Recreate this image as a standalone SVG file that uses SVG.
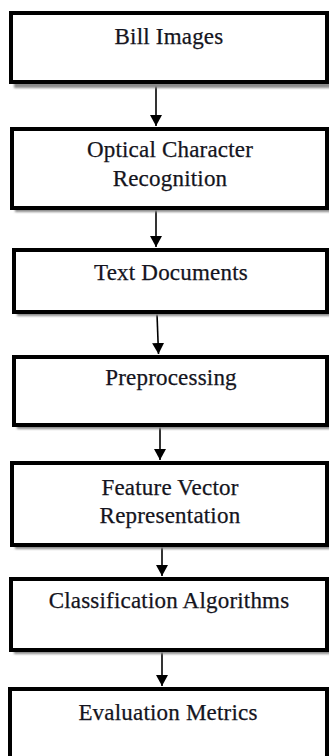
<svg xmlns="http://www.w3.org/2000/svg" width="329" height="756" viewBox="0 0 329 756">
  <defs>
    <marker id="arrowhead" markerUnits="userSpaceOnUse" markerWidth="12" markerHeight="12" refX="11" refY="6" orient="auto">
      <path d="M0,0 L11,6 L0,12 z" fill="#000"/>
    </marker>
    <filter id="soft" x="-5%" y="-5%" width="110%" height="120%">
      <feGaussianBlur stdDeviation="0.8"/>
    </filter>
  </defs>
  <style>
    .shadow { fill: #8a8a8a; filter: url(#soft); }
    .box { fill: #ffffff; stroke: #000000; stroke-width: 4; }
    .label { font-family: "Liberation Serif", "Times New Roman", serif; font-size: 23px; letter-spacing: 0.2px; fill: #141420; stroke: #141420; stroke-width: 0.25; text-anchor: middle; }
    .edge { stroke: #000000; stroke-width: 1.6; fill: none; marker-end: url(#arrowhead); }
  </style>
  <rect width="329" height="756" fill="#ffffff"/>

  <g id="connectors">
    <line class="edge" x1="156" y1="84" x2="156" y2="126"/>
    <line class="edge" x1="156" y1="210" x2="156" y2="247"/>
    <line class="edge" x1="157" y1="314" x2="158.5" y2="354"/>
    <line class="edge" x1="160" y1="427" x2="160" y2="460"/>
    <line class="edge" x1="162" y1="547" x2="162" y2="576"/>
    <line class="edge" x1="162" y1="652" x2="162" y2="686"/>
  </g>

  <g id="bill-images">
    <rect class="shadow" x="14" y="17" width="318" height="71"/>
    <rect class="box" x="11" y="13" width="316" height="69"/>
    <text class="label" x="169" y="44">Bill Images</text>
  </g>

  <g id="ocr">
    <rect class="shadow" x="15" y="133" width="317" height="79"/>
    <rect class="box" x="12" y="129" width="315" height="79"/>
    <text class="label" x="170" y="157">Optical Character</text>
    <text class="label" x="170" y="186">Recognition</text>
  </g>

  <g id="text-documents">
    <rect class="shadow" x="17" y="254" width="315" height="62"/>
    <rect class="box" x="14" y="250" width="313" height="62"/>
    <text class="label" x="171" y="280">Text Documents</text>
  </g>

  <g id="preprocessing">
    <rect class="shadow" x="17" y="361" width="315" height="68"/>
    <rect class="box" x="14" y="357" width="313" height="68"/>
    <text class="label" x="171" y="385">Preprocessing</text>
  </g>

  <g id="feature-vector">
    <rect class="shadow" x="15" y="467" width="317" height="82"/>
    <rect class="box" x="12" y="463" width="315" height="82"/>
    <text class="label" x="170" y="495">Feature Vector</text>
    <text class="label" x="170" y="523">Representation</text>
  </g>

  <g id="classification">
    <rect class="shadow" x="14" y="583" width="318" height="71"/>
    <rect class="box" x="11" y="579" width="316" height="71"/>
    <text class="label" x="169" y="608">Classification Algorithms</text>
  </g>

  <g id="evaluation">
    <rect class="shadow" x="13" y="693" width="319" height="80"/>
    <rect class="box" x="10" y="689" width="317" height="80"/>
    <text class="label" x="168" y="720">Evaluation Metrics</text>
  </g>
</svg>
